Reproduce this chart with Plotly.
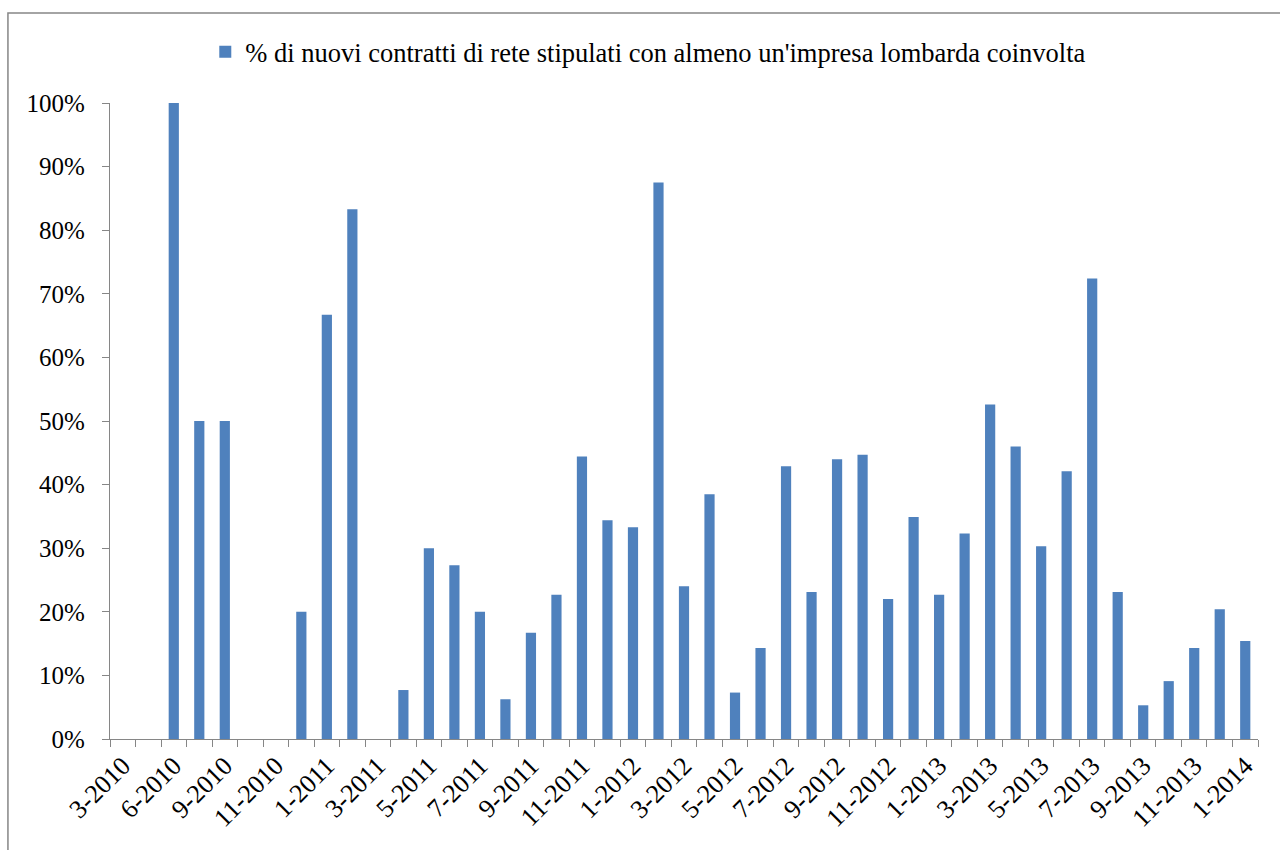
import plotly.graph_objects as go

# Monthly periods (category axis) and share of new network contracts with a Lombard firm
periods = [
    "3-2010", "4-2010", "6-2010", "7-2010", "9-2010", "10-2010",
    "11-2010", "12-2010",
    "1-2011", "2-2011", "3-2011", "4-2011", "5-2011", "6-2011",
    "7-2011", "8-2011", "9-2011", "10-2011", "11-2011", "12-2011",
    "1-2012", "2-2012", "3-2012", "4-2012", "5-2012", "6-2012",
    "7-2012", "8-2012", "9-2012", "10-2012", "11-2012", "12-2012",
    "1-2013", "2-2013", "3-2013", "4-2013", "5-2013", "6-2013",
    "7-2013", "8-2013", "9-2013", "10-2013", "11-2013", "12-2013",
    "1-2014",
]

share_pct = [
    0.0, 0.0, 100.0, 50.0, 50.0, 0.0,
    0.0, 20.0,
    66.7, 83.3, 0.0, 7.7, 30.0, 27.3,
    20.0, 6.25, 16.7, 22.7, 44.4, 34.4,
    33.3, 87.5, 24.0, 38.5, 7.3, 14.3,
    42.9, 23.1, 44.0, 44.7, 22.0, 34.9,
    22.7, 32.3, 52.6, 46.0, 30.3, 42.1,
    72.4, 23.1, 5.3, 9.1, 14.3, 20.4,
    15.4,
]

series_name = "% di nuovi contratti di rete stipulati con almeno un'impresa lombarda coinvolta"

# every other period is labelled on the axis
tick_labels = [p if i % 2 == 0 else "" for i, p in enumerate(periods)]

share = [v / 100 for v in share_pct]

AXIS_GREY = "#868686"
SERIF = "Liberation Serif, Times New Roman, serif"

fig = go.Figure(
    go.Bar(
        x=periods,
        y=share,
        name=series_name,
        marker=dict(color="#4F81BD", line=dict(width=0)),
        showlegend=True,
    )
)

fig.update_layout(
    width=1280,
    height=850,
    margin=dict(l=110, r=22, t=103, b=111, autoexpand=False),
    paper_bgcolor="white",
    plot_bgcolor="white",
    font=dict(family=SERIF, size=25, color="black"),
    bargap=0.6,
    showlegend=True,
    legend=dict(
        orientation="h",
        x=0.083,
        xanchor="left",
        y=1.08,
        yanchor="middle",
        font=dict(family=SERIF, size=26.5, color="black"),
        bgcolor="rgba(0,0,0,0)",
        itemwidth=30,
    ),
    shapes=[
        dict(
            type="rect",
            xref="paper",
            yref="paper",
            x0=-0.0889,
            x1=1.03,
            y0=-0.2,
            y1=1.1415,
            line=dict(color=AXIS_GREY, width=1.5),
            fillcolor="rgba(0,0,0,0)",
            layer="below",
        )
    ],
)

fig.update_xaxes(
    type="category",
    tickmode="array",
    tickvals=periods,
    ticktext=tick_labels,
    tickangle=-45,
    tickson="boundaries",
    ticks="outside",
    ticklen=7,
    tickwidth=1.3,
    tickcolor=AXIS_GREY,
    showline=True,
    linecolor=AXIS_GREY,
    linewidth=1.3,
    showgrid=False,
    zeroline=False,
    automargin=False,
    tickfont=dict(family=SERIF, size=26, color="black"),
)

fig.update_yaxes(
    range=[0, 1],
    dtick=0.1,
    tick0=0,
    tickformat=".0%",
    ticks="outside",
    ticklen=7,
    tickwidth=1.3,
    tickcolor=AXIS_GREY,
    showline=True,
    linecolor=AXIS_GREY,
    linewidth=1.3,
    showgrid=False,
    zeroline=False,
    automargin=False,
    ticklabelstandoff=12,
    tickfont=dict(family=SERIF, size=25, color="black"),
)

fig.write_html("out.html")
